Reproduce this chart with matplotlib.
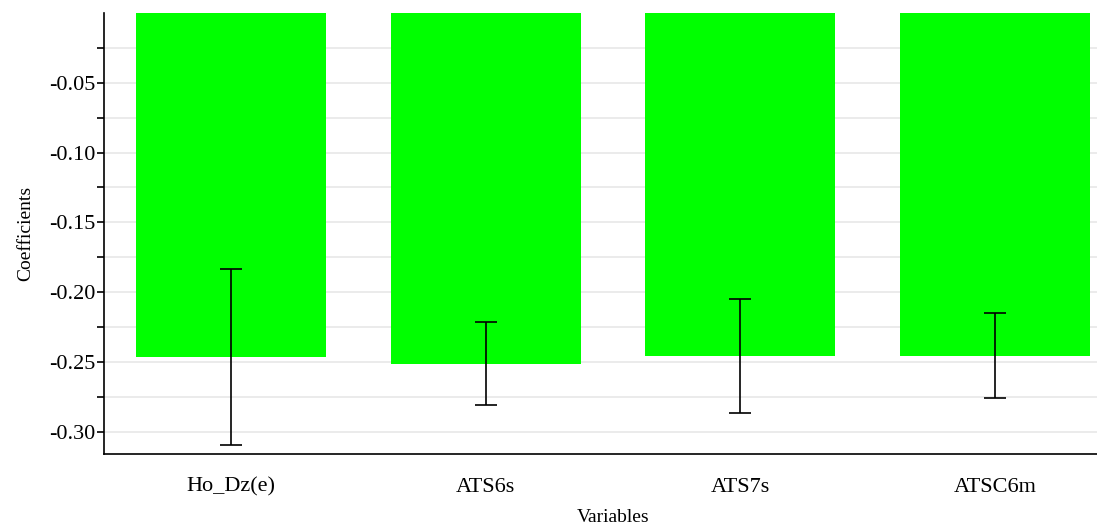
import numpy as np
import matplotlib
matplotlib.use("Agg")
import matplotlib.pyplot as plt

variables = ["Ho_Dz(e)", "ATS6s", "ATS7s", "ATSC6m"]
coefficients = [-0.2466, -0.2512, -0.2457, -0.2457]
errors = [0.063, 0.030, 0.041, 0.0305]

major_ticks = [-0.30, -0.25, -0.20, -0.15, -0.10, -0.05]
minor_ticks = [-0.275, -0.225, -0.175, -0.125, -0.075, -0.025]

plt.rcParams['font.family'] = ['Liberation Serif', 'DejaVu Serif']

fig = plt.figure(figsize=(10.97, 5.29), dpi=100)
ax = fig.add_axes([104 / 1097, 75 / 529, 1018 / 1097, 441 / 529])

x = np.arange(len(variables))
ax.bar(x, coefficients, width=0.745, color='#00ff00', zorder=2)
ax.errorbar(x, coefficients, yerr=errors, fmt='none', ecolor='black',
            elinewidth=1.2, capsize=8, capthick=1.2, zorder=3)

ax.set_xlim(-0.5, 3.5)
ax.set_ylim(-0.316, 0.0)
ax.set_yticks(major_ticks)
ax.set_yticklabels([f"{v:.2f}" for v in major_ticks])
ax.set_yticks(minor_ticks, minor=True)

ax.grid(True, axis='y', which='both', color='#e8e8e8', linewidth=1.2, zorder=0)
ax.set_axisbelow(True)

ax.set_xticks(x)
ax.set_xticklabels(variables, fontsize=16)
ax.tick_params(axis='x', length=0, pad=17)
ax.tick_params(axis='y', which='both', direction='out', length=5, width=1.2, labelsize=16, pad=1)

for side in ['top', 'right']:
    ax.spines[side].set_visible(False)
ax.spines['left'].set_linewidth(1.2)
ax.spines['bottom'].set_linewidth(1.2)

ax.set_ylabel("Coefficients", fontsize=14, labelpad=11)
ax.set_xlabel("Variables", fontsize=14, labelpad=9)

fig.savefig("out.png", dpi=100)
